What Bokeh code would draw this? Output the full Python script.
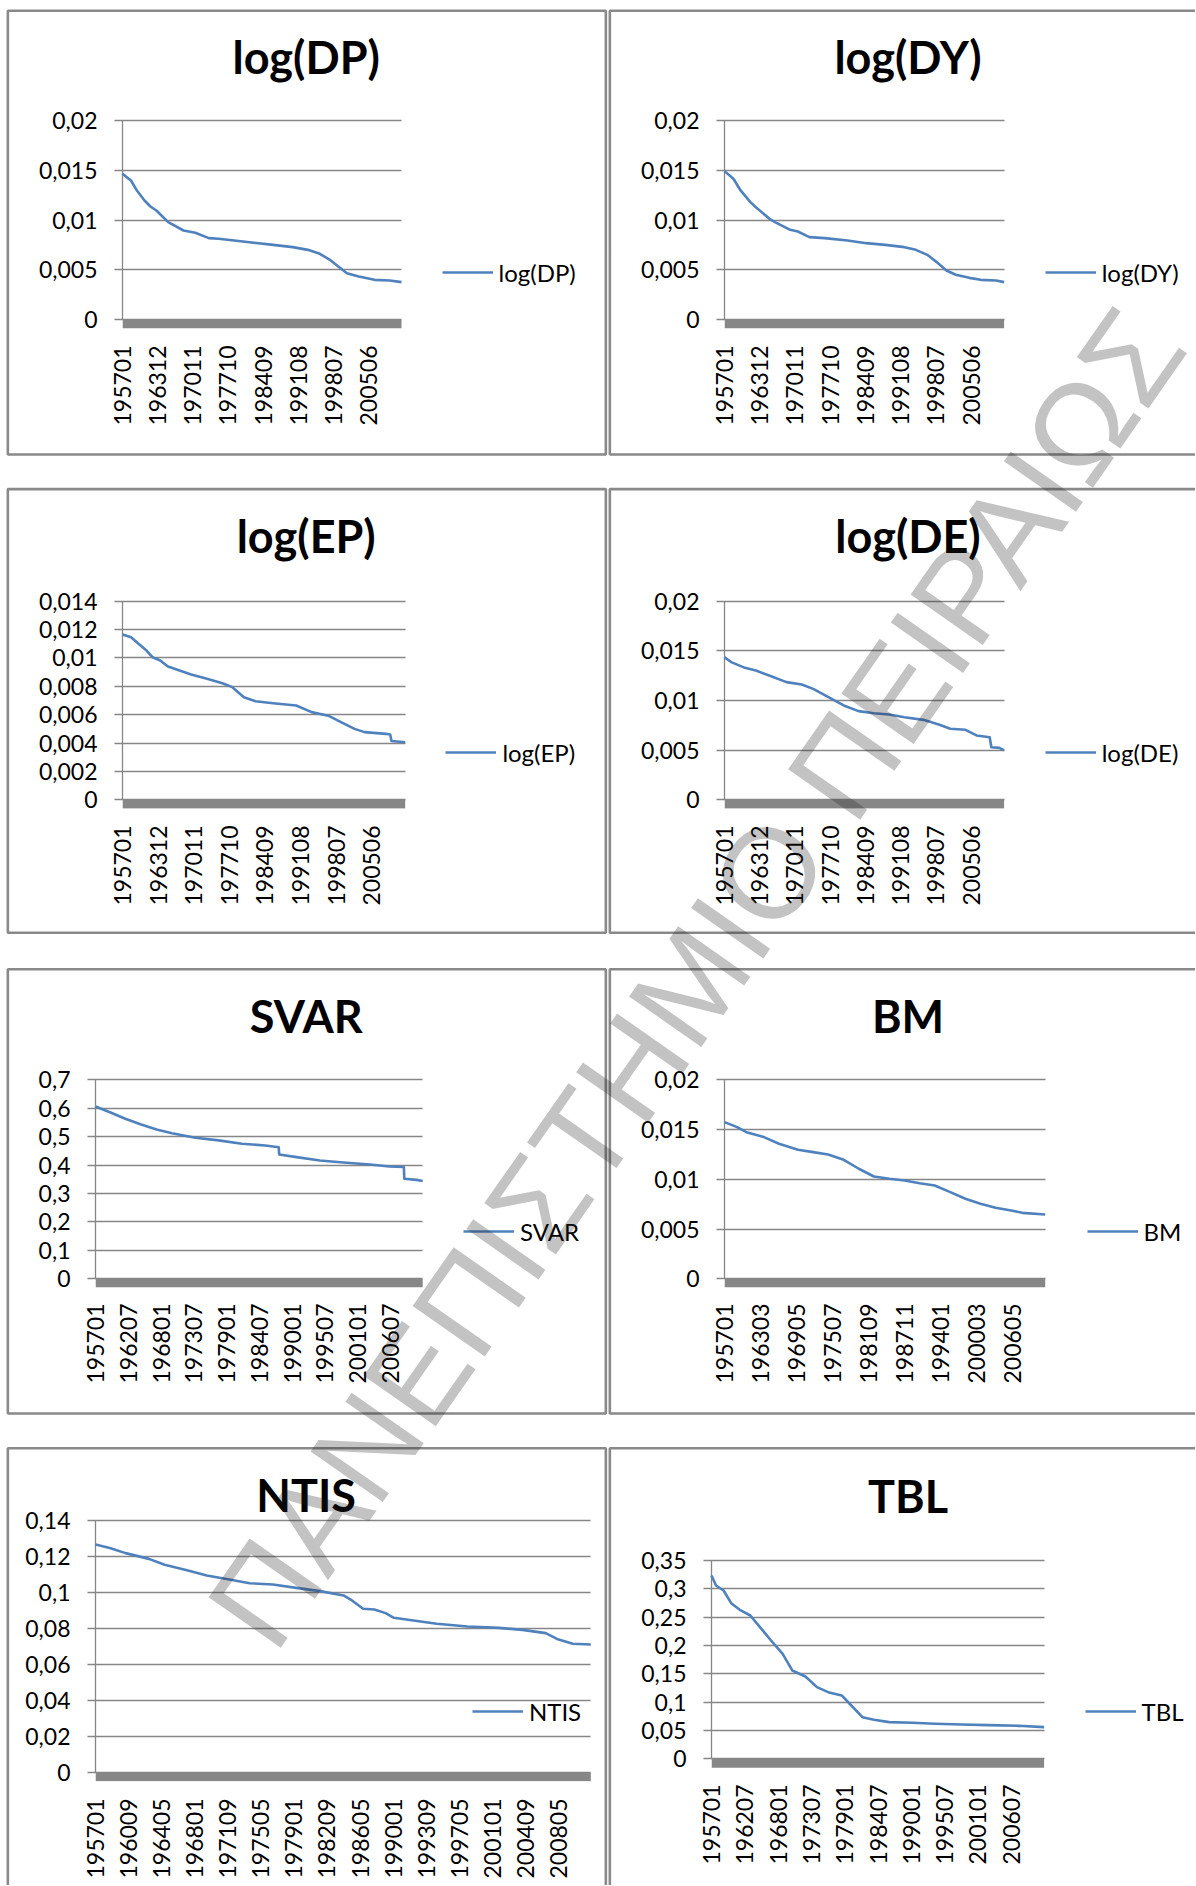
import math
from bokeh.plotting import figure
from bokeh.models import (Range1d, FixedTicker, CustomJSTickFormatter, BoxAnnotation,
                          Label, Legend, LegendItem, ColumnDataSource, GridBox)
from bokeh.layouts import row, column
from bokeh.core.properties import value
from bokeh.embed import file_html
from bokeh.resources import INLINE

# ---------------- data ----------------
xl_83 = ["195701", "196312", "197011", "197710", "198409", "199108", "199807", "200506"]
xl_66 = ["195701", "196207", "196801", "197307", "197901", "198407", "199001", "199507", "200101", "200607"]
xl_74 = ["195701", "196303", "196905", "197507", "198109", "198711", "199401", "200003", "200605"]
xl_44 = ["195701", "196009", "196405", "196801", "197109", "197505", "197901", "198209", "198605",
         "199001", "199309", "199705", "200101", "200409", "200805"]

yt_020 = [0, 0.005, 0.01, 0.015, 0.02]
yt_014 = [0, 0.002, 0.004, 0.006, 0.008, 0.01, 0.012, 0.014]
yt_07 = [0, 0.1, 0.2, 0.3, 0.4, 0.5, 0.6, 0.7]
yt_14 = [0, 0.02, 0.04, 0.06, 0.08, 0.1, 0.12, 0.14]
yt_35 = [0, 0.05, 0.1, 0.15, 0.2, 0.25, 0.3, 0.35]

dp_months = ["195701", "195809", "195911", "196105", "196207", "196309", "196601", "196901", "197105",
             "197401", "197512", "197901", "198211", "198609", "199007", "199307", "199511", "199710",
             "199909", "200103", "200307", "200608", "200908", "201112"]
dp_values = [0.01465, 0.01398, 0.01297, 0.01197, 0.01137, 0.01097, 0.0098, 0.00896, 0.00873,
             0.0082, 0.00813, 0.00796, 0.00773, 0.00752, 0.00729, 0.00702, 0.00662, 0.00605,
             0.00528, 0.00468, 0.00435, 0.00401, 0.00395, 0.00378]

dy_months = ["195701", "195810", "196003", "196202", "196303", "196511", "196612", "196912", "197106",
             "197309", "197609", "198103", "198411", "198808", "199205", "199408", "199611", "199809",
             "200008", "200206", "200502", "200705", "201005", "201112"]
dy_values = [0.01492, 0.01415, 0.01298, 0.01181, 0.0113, 0.01013, 0.0098, 0.00903, 0.00886,
             0.0083, 0.0082, 0.00796, 0.00769, 0.00752, 0.00729, 0.00702, 0.00652, 0.00579,
             0.00495, 0.00452, 0.00421, 0.00401, 0.00395, 0.00378]

ep_months = ["195701", "195809", "196003", "196109", "196211", "196405", "196511", "196802", "197005",
             "197306", "197606", "197805", "198008", "198211", "198604", "199010", "199310", "199703",
             "199911", "200202", "200401", "200803", "200901", "200904", "201112"]
ep_values = [0.01165, 0.01146, 0.01099, 0.01052, 0.01005, 0.00982, 0.0094, 0.00911, 0.00883,
             0.00853, 0.00822, 0.00794, 0.00723, 0.00695, 0.00681, 0.00665, 0.00618, 0.0059,
             0.0054, 0.005, 0.00477, 0.00465, 0.0046, 0.00414, 0.00406]

de_months = ["195701", "195805", "196101", "196303", "196603", "196903", "197203", "197406", "197706",
             "198006", "198305", "198605", "198905", "199205", "199602", "199902", "200105", "200405",
             "200607", "200902", "200906", "201101", "201112"]
de_values = [0.01436, 0.01386, 0.01329, 0.01302, 0.01245, 0.01185, 0.01161, 0.01117, 0.01034,
             0.0095, 0.00893, 0.00872, 0.00859, 0.00832, 0.00805, 0.00758, 0.00715, 0.00705,
             0.00648, 0.0063, 0.0053, 0.00523, 0.00497]

sv_months = ["195701", "195906", "196201", "196409", "196704", "196911", "197310", "197709", "198108",
             "198507", "198710", "198711", "199010", "199409", "199808", "200302", "200605", "200810",
             "200811", "201012", "201112"]
sv_values = [0.606, 0.586, 0.563, 0.543, 0.525, 0.512, 0.496, 0.487, 0.475,
             0.469, 0.463, 0.437, 0.428, 0.416, 0.409, 0.402, 0.395, 0.393,
             0.352, 0.348, 0.344]

bm_months = ["195701", "195903", "196010", "196310", "196605", "196908", "197203", "197410", "197706",
             "198001", "198208", "198504", "198711", "199006", "199301", "199509", "199804", "200011",
             "200306", "200602", "200801", "201112"]
bm_values = [0.01575, 0.01524, 0.01474, 0.01424, 0.01357, 0.01297, 0.01273, 0.0125, 0.01196,
             0.01106, 0.01028, 0.01005, 0.00988, 0.00961, 0.00938, 0.00871, 0.00804, 0.00754,
             0.00714, 0.00687, 0.00663, 0.00647]

nt_months = ["195701", "195808", "196005", "196212", "196409", "196704", "196905", "197201", "197402",
             "197609", "197904", "198112", "198407", "198505", "198609", "198712", "198903", "199002",
             "199204", "199411", "199804", "200110", "200405", "200612", "200803", "200912", "201112"]
nt_values = [0.1267, 0.1248, 0.1219, 0.1187, 0.1154, 0.1123, 0.1095, 0.1071, 0.1052,
             0.1045, 0.1026, 0.1008, 0.0984, 0.096, 0.091, 0.0906, 0.0886, 0.086,
             0.0845, 0.0827, 0.0812, 0.0804, 0.0793, 0.0775, 0.0743, 0.0716, 0.0712]

tb_months = ["195701", "195710", "195901", "196004", "196111", "196306", "196501", "196611", "196810",
             "197005", "197207", "197406", "197604", "197807", "198002", "198112", "198311", "198605",
             "199002", "199312", "199804", "200209", "200709", "201112"]
tb_values = [0.3235, 0.3059, 0.297, 0.2747, 0.2618, 0.2529, 0.2324, 0.2088, 0.1853,
             0.1559, 0.1453, 0.1265, 0.1176, 0.1118, 0.0941, 0.0735, 0.0688, 0.0647,
             0.0635, 0.0618, 0.0606, 0.0594, 0.0582, 0.0559]

watermark = "ΠΑΝΕΠΙΣΤΗΜΙΟ ΠΕΙΡΑΙΩΣ"

# ---------------- layout / style (page pixels) ----------------
FIRST, LAST = "195701", "201112"


def midx(s):
    return (int(s[:4]) - int(FIRST[:4])) * 12 + int(s[4:]) - 1


PAGE_W, PAGE_H = 1195, 1885
COL_X = [0, 607]
COL_W = [607, 588]
ROW_Y = [0, 471, 951, 1430]
ROW_H = [471, 480, 479, 455]
ROW_FRAME = [(119, 328), (599, 808), (1078, 1287), (1519, 1781)]   # frame top / bottom per row
FRAME_PAD_R = [11, 6]

BORDER_X = [(7.35, 605.35), (609.35, 1300.0)]
BORDER_Y = [(10.3, 454.0), (488.6, 932.3), (968.7, 1413.0), (1447.7, 2000.0)]
WM_POS = (237.7, 1630.2)
TITLE_SHIFT = 17.5

BLUE = "#4F81BD"
GRID = "#868686"
FONT = "Lato"
LEG_H = 28

panels = [
    dict(title="log(DP)", m=dp_months, v=dp_values, yt=yt_020, xl=xl_83, col=0, row=0,
         L=122, Rp=401, top=120, zero=319.3, floor=328, leg=(441.6, 272.7), tt=(305.7, 74), lab=345),
    dict(title="log(DY)", m=dy_months, v=dy_values, yt=yt_020, xl=xl_83, col=1, row=0,
         L=724.3, Rp=1003.6, top=120, zero=319.3, floor=328, leg=(1044.7, 272.7), tt=(907.5, 74), lab=345),
    dict(title="log(EP)", m=ep_months, v=ep_values, yt=yt_014, xl=xl_83, col=0, row=1,
         L=121.8, Rp=404.7, top=600.7, zero=799.3, floor=808.3, leg=(445.4, 752.7), tt=(305.7, 553.3), lab=825),
    dict(title="log(DE)", m=de_months, v=de_values, yt=yt_020, xl=xl_83, col=1, row=1,
         L=724.3, Rp=1003.6, top=600.7, zero=799.3, floor=808.3, leg=(1044.7, 752.7), tt=(907.5, 553.3), lab=825),
    dict(title="SVAR", m=sv_months, v=sv_values, yt=yt_07, xl=xl_66, col=0, row=2,
         L=94.6, Rp=422.2, top=1079.3, zero=1278.3, floor=1287, leg=(463.0, 1231.7), tt=(305.7, 1032.7), lab=1303),
    dict(title="BM", m=bm_months, v=bm_values, yt=yt_020, xl=xl_74, col=1, row=2,
         L=724.3, Rp=1044.7, top=1079.3, zero=1278.3, floor=1287, leg=(1086.5, 1231.7), tt=(907.5, 1032.7), lab=1303),
    dict(title="NTIS", m=nt_months, v=nt_values, yt=yt_14, xl=xl_44, col=0, row=3,
         L=94.6, Rp=590.3, top=1520, zero=1772.3, floor=1780.7, leg=(471.9, 1711.7), tt=(305.7, 1511.7), lab=1798),
    dict(title="TBL", m=tb_months, v=tb_values, yt=yt_35, xl=xl_66, col=1, row=3,
         L=711.4, Rp=1043.6, top=1560, zero=1758.3, floor=1767.3, leg=(1084.6, 1711.7), tt=(907.5, 1512.7), lab=1784),
]


def make_panel(s):
    c, r = s["col"], s["row"]
    ox, oy = COL_X[c], ROW_Y[r]
    w, h = COL_W[c], ROW_H[r]
    ft, fb = ROW_FRAME[r]
    ft_c, fb_c = ft - oy, fb - oy
    L = int(round(s["L"] - ox))
    R_frame = w - FRAME_PAD_R[c]
    Rp = s["Rp"] - ox
    ppi = (Rp - L) / midx(LAST)
    ymax = s["yt"][-1]
    top_c, zero_c, floor_c = s["top"] - oy, s["zero"] - oy, s["floor"] - oy

    def yval(pxc):
        return ymax * (zero_c - pxc) / (zero_c - top_c)

    p = figure(width=w, height=h,
               x_range=Range1d(0, (R_frame - L) / ppi), y_range=Range1d(yval(fb_c), yval(ft_c)),
               toolbar_location=None, output_backend="svg",
               min_border_left=L, min_border_right=w - R_frame,
               min_border_top=ft_c, min_border_bottom=h - fb_c)
    p.title.visible = False
    p.outline_line_color = None
    p.background_fill_color = "white"
    p.border_fill_color = "white"
    p.xgrid.visible = False
    p.ygrid.visible = False

    src = ColumnDataSource(dict(x=[midx(m) for m in s["m"]], y=s["v"]))
    rend = p.line("x", "y", source=src, line_color=BLUE, line_width=2.6, line_join="round",
                  level="overlay")

    # y axis (ticks drawn inwards act as the horizontal gridlines)
    ya = p.yaxis[0]
    ya.ticker = FixedTicker(ticks=s["yt"])
    ya.formatter = CustomJSTickFormatter(code="return String(tick).replace('.', ',');")
    ya.bounds = (0, ymax)
    ya.major_label_text_font = FONT
    ya.major_label_text_font_size = "23px"
    ya.major_label_text_color = "black"
    ya.axis_line_color = GRID
    ya.axis_line_width = 1.3
    ya.major_tick_line_color = GRID
    ya.major_tick_line_width = 1.3
    ya.major_tick_out = 8
    ya.major_tick_in = int(round(Rp - L))
    ya.minor_tick_line_color = None
    ya.major_label_standoff = 17

    # x axis: rotated month labels
    xpos = [midx(t) for t in s["xl"]]
    xa = p.xaxis[0]
    xa.ticker = FixedTicker(ticks=xpos)
    xa.formatter = CustomJSTickFormatter(args=dict(pos=xpos, lab=s["xl"]),
                                         code="const i = pos.indexOf(tick); return i < 0 ? '' : lab[i];")
    xa.major_label_orientation = math.pi / 2
    xa.major_label_text_font = FONT
    xa.major_label_text_font_size = "23px"
    xa.major_label_text_color = "black"
    xa.axis_line_color = None
    xa.major_tick_line_color = None
    xa.minor_tick_line_color = None
    xa.major_tick_out = 0
    xa.major_tick_in = 0
    xa.major_label_standoff = int(round(s["lab"] - fb))

    # floor bar under the plot area
    p.add_layout(BoxAnnotation(top=0, bottom=yval(floor_c), right=midx(LAST),
                               fill_color="#878787", fill_alpha=1.0, line_color=None))

    # legend
    lx, ly = s["leg"]
    leg = Legend(items=[LegendItem(label=value(s["title"]), renderers=[rend])],
                 location=(lx - ox - L, fb_c - (ly - oy) - LEG_H / 2),
                 padding=0, margin=0, spacing=0,
                 glyph_width=51, glyph_height=LEG_H, label_height=LEG_H, label_standoff=6,
                 label_text_font=FONT, label_text_font_size="24px", label_text_color="black",
                 border_line_color=None, background_fill_alpha=0)
    p.add_layout(leg)
    return p


figs = [make_panel(s) for s in panels]
main = column(row(figs[0], figs[1]), row(figs[2], figs[3]),
              row(figs[4], figs[5]), row(figs[6], figs[7]))

# overlay: panel frames, chart titles and the diagonal watermark, in page pixels
ov = figure(width=PAGE_W, height=PAGE_H, x_range=Range1d(0, PAGE_W), y_range=Range1d(PAGE_H, 0),
            toolbar_location=None, output_backend="svg",
            x_axis_location=None, y_axis_location=None,
            min_border_left=0, min_border_right=0, min_border_top=0, min_border_bottom=0)
ov.title.visible = False
ov.xgrid.visible = False
ov.ygrid.visible = False
ov.outline_line_color = None
ov.background_fill_color = None
ov.border_fill_color = None

for s in panels:
    bx0, bx1 = BORDER_X[s["col"]]
    by0, by1 = BORDER_Y[s["row"]]
    ov.add_layout(BoxAnnotation(left=bx0, right=bx1, top=by0, bottom=by1,
                                fill_alpha=0, line_color="#898989", line_alpha=1.0, line_width=2.6))
    ov.add_layout(Label(x=s["tt"][0], y=s["tt"][1] - TITLE_SHIFT, text=s["title"], text_font=FONT,
                        text_font_style="bold", text_font_size="45px", text_color="black",
                        text_align="center", text_baseline="alphabetic"))

ov.add_layout(Label(x=WM_POS[0], y=WM_POS[1], text=watermark,
                    angle=55, angle_units="deg", text_font="Liberation Sans",
                    text_font_size="128px", text_color="#202020", text_alpha=0.27,
                    text_align="left", text_baseline="alphabetic"))

page = GridBox(children=[(main, 0, 0), (ov, 0, 0)])

open("out.html", "w").write(file_html(page, INLINE, title="Predictors"))
